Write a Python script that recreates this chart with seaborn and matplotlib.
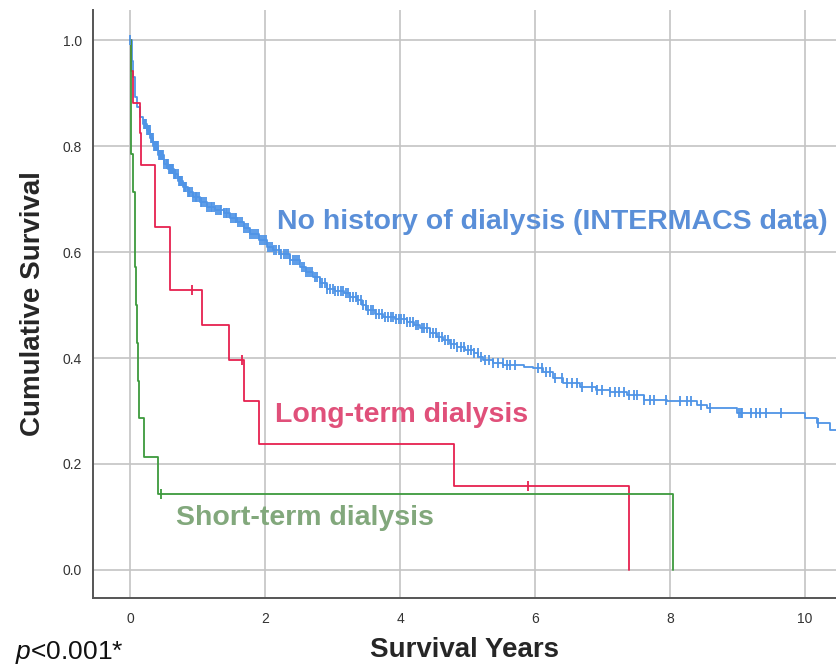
import numpy as np
import pandas as pd
import matplotlib
matplotlib.use("Agg")
import matplotlib.pyplot as plt
import seaborn as sns

# Kaplan-Meier curves (time in years, survival after each event)
blue_times = [0, 0.02, 0.04, 0.067, 0.10, 0.14, 0.19, 0.24, 0.29, 0.34, 0.41, 0.49, 0.56, 0.64,
              0.71, 0.78, 0.85, 0.93, 1.03, 1.13, 1.25, 1.38, 1.48, 1.58, 1.68, 1.77, 1.90, 2.02,
              2.12, 2.22, 2.36, 2.51, 2.61, 2.71, 2.81, 2.91, 3.03, 3.16, 3.26, 3.36, 3.43, 3.50,
              3.62, 3.75, 3.92, 4.10, 4.20, 4.30, 4.44, 4.54, 4.64, 4.74, 4.84, 4.96, 5.09, 5.16,
              5.23, 5.38, 5.53, 5.83, 5.97, 6.12, 6.27, 6.42, 6.67, 6.90, 7.11, 7.36, 7.61, 7.96,
              8.40, 8.55, 8.99, 10.00, 10.18, 10.38, 10.55]
blue_surv = [1.0, 0.96, 0.93, 0.893, 0.873, 0.855, 0.842, 0.83, 0.815, 0.80, 0.783, 0.767, 0.757, 0.748,
             0.735, 0.723, 0.713, 0.704, 0.694, 0.685, 0.679, 0.673, 0.665, 0.657, 0.646, 0.635, 0.622, 0.61,
             0.604, 0.597, 0.585, 0.572, 0.562, 0.553, 0.542, 0.531, 0.526, 0.522, 0.515, 0.509, 0.50, 0.49,
             0.484, 0.478, 0.473, 0.468, 0.462, 0.456, 0.447, 0.44, 0.434, 0.427, 0.421, 0.415, 0.409, 0.402,
             0.396, 0.391, 0.387, 0.384, 0.381, 0.374, 0.362, 0.352, 0.345, 0.340, 0.336, 0.33, 0.321, 0.318,
             0.311, 0.305, 0.296, 0.286, 0.277, 0.264, 0.264]
blue_censor = [0.0, 0.20, 0.21, 0.22, 0.235, 0.25, 0.26, 0.27, 0.285, 0.30, 0.315, 0.33, 0.345, 0.36,
               0.375, 0.39, 0.405, 0.42, 0.435, 0.45, 0.465, 0.48, 0.50, 0.52, 0.535, 0.55, 0.565, 0.58,
               0.60, 0.61, 0.63, 0.65, 0.665, 0.68, 0.70, 0.72, 0.735, 0.75, 0.77, 0.79, 0.81, 0.83,
               0.85, 0.87, 0.89, 0.91, 0.93, 0.95, 0.97, 0.99, 1.01, 1.04, 1.065, 1.09, 1.115, 1.14,
               1.165, 1.19, 1.215, 1.24, 1.27, 1.30, 1.325, 1.35, 1.38, 1.41, 1.435, 1.46, 1.49, 1.52,
               1.545, 1.57, 1.60, 1.63, 1.66, 1.69, 1.715, 1.74, 1.77, 1.80, 1.83, 1.86, 1.89, 1.92,
               1.95, 1.98, 2.01, 2.04, 2.07, 2.10, 2.13, 2.16, 2.20, 2.23, 2.27, 2.30, 2.34, 2.37,
               2.41, 2.44, 2.47, 2.50, 2.54, 2.57, 2.61, 2.64, 2.67, 2.70, 2.74, 2.77, 2.81, 2.84,
               2.88, 2.92, 2.96, 3.00, 3.04, 3.08, 3.12, 3.15, 3.19, 3.22, 3.26, 3.30, 3.34, 3.38,
               3.42, 3.45, 3.49, 3.53, 3.57, 3.60, 3.64, 3.68, 3.73, 3.77, 3.82, 3.86, 3.90, 3.94,
               3.98, 4.02, 4.06, 4.10, 4.15, 4.19, 4.23, 4.27, 4.32, 4.36, 4.40, 4.45, 4.49, 4.53,
               4.58, 4.62, 4.67, 4.71, 4.76, 4.80, 4.85, 4.90, 4.95, 5.00, 5.05, 5.10, 5.15, 5.20,
               5.26, 5.32, 5.38, 5.45, 5.52, 5.58, 5.63, 5.70, 6.05, 6.10, 6.17, 6.22, 6.30, 6.40,
               6.48, 6.55, 6.63, 6.70, 6.85, 6.92, 7.00, 7.12, 7.18, 7.25, 7.32, 7.40, 7.47, 7.52,
               7.62, 7.70, 7.77, 7.95, 8.15, 8.25, 8.32, 8.47, 8.60, 9.03, 9.05, 9.07, 9.20, 9.28,
               9.34, 9.42, 9.65, 10.20]

red_times = [0, 0.015, 0.04, 0.14, 0.16, 0.36, 0.58, 1.06, 1.46, 1.69, 1.90, 4.80, 7.39]
red_surv = [1.0, 0.941, 0.882, 0.824, 0.765, 0.647, 0.529, 0.463, 0.397, 0.318, 0.238, 0.159, 0.0]
red_censor = [0.91, 1.65, 5.90]

green_times = [0, 0.003, 0.006, 0.01, 0.035, 0.06, 0.07, 0.085, 0.10, 0.11, 0.125, 0.20, 0.41, 8.05]
green_surv = [1.0, 0.929, 0.857, 0.786, 0.714, 0.643, 0.571, 0.5, 0.429, 0.357, 0.286, 0.214, 0.143, 0.0]
green_censor = [0.45]

groups = ["No history of dialysis (INTERMACS data)", "Long-term dialysis", "Short-term dialysis"]
line_colors = ["#4f94e6", "#e6214f", "#3d9a3d"]
text_colors = ["#5a8fd8", "#e0507a", "#82a87c"]

curves = [(blue_times, blue_surv, blue_censor),
          (red_times, red_surv, red_censor),
          (green_times, green_surv, green_censor)]

rows, cens_rows = [], []
for g, (t, s, c) in zip(groups, curves):
    rows += [(g, ti, si) for ti, si in zip(t, s)]
    idx = np.searchsorted(t, c, side="right") - 1
    cens_rows += [(g, ci, s[i]) for ci, i in zip(c, idx)]
df = pd.DataFrame(rows, columns=["group", "time", "surv"])
cens = pd.DataFrame(cens_rows, columns=["group", "time", "surv"])

sns.set_style("white")
plt.rcParams["font.family"] = ["Liberation Sans", "DejaVu Sans"]
plt.rcParams["mathtext.fontset"] = "custom"
plt.rcParams["mathtext.it"] = "Liberation Sans:italic"
plt.rcParams["mathtext.rm"] = "Liberation Sans"

fig = plt.figure(figsize=(8.37, 6.72), dpi=100)
ax = fig.add_axes([0.1111, 0.1101, 0.8889, 0.875])

pal = dict(zip(groups, line_colors))
sns.lineplot(data=df, x="time", y="surv", hue="group", hue_order=groups, palette=pal,
             estimator=None, drawstyle="steps-post", linewidth=1.3, legend=False, ax=ax, zorder=3)
for g in groups:
    sub = cens[cens.group == g]
    ax.plot(sub.time, sub.surv, linestyle="none", marker="|", markersize=7.5,
            markeredgewidth=1.3, color=pal[g], zorder=4)

ax.set_xlim(-0.556, 10.48)
ax.set_ylim(-0.053, 1.057)
ax.set_xticks([0, 2, 4, 6, 8, 10])
ax.set_yticks([0.0, 0.2, 0.4, 0.6, 0.8, 1.0])
ax.set_yticklabels(["0.0", "0.2", "0.4", "0.6", "0.8", "1.0"])
ax.grid(True, color="#c4c4c4", linewidth=1.2)
ax.set_axisbelow(True)
ax.tick_params(length=0, labelsize=10, labelcolor="#333333", pad=8)
ax.tick_params(axis="x", pad=10)
for side in ["top", "right"]:
    ax.spines[side].set_visible(False)
for side in ["left", "bottom"]:
    ax.spines[side].set_color("#555555")
    ax.spines[side].set_linewidth(1.4)

ax.set_xlabel("Survival Years", fontsize=20, fontweight="bold", labelpad=8)
ax.set_ylabel("Cumulative Survival", fontsize=20, fontweight="bold", labelpad=12)

label_pos = [(2.17, 0.657), (2.15, 0.292), (0.68, 0.098)]
for g, col, (x, y) in zip(groups, text_colors, label_pos):
    ax.text(x, y, g, color=col, fontsize=20.5, fontweight="bold", va="center", ha="left")

fig.text(0.018, 0.019, r"$p$<0.001*", fontsize=19, color="#111111", ha="left", va="baseline")

fig.savefig("out.png", dpi=100)
